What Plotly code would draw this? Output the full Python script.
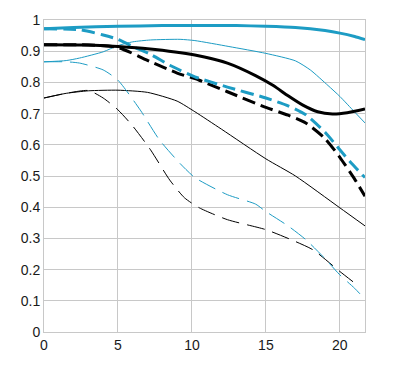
import plotly.graph_objects as go

BLUE = "#1d9cc4"
BLACK = "#000000"

# Thick blue solid
x_bs = [0, 2, 5, 8, 10, 13, 15, 17, 19, 20, 21, 21.7]
y_bs = [0.972, 0.976, 0.980, 0.982, 0.982, 0.982, 0.980, 0.976, 0.966, 0.958, 0.947, 0.937]

# Thick blue dashed
x_bd = [0, 2.5, 4, 5, 6, 7.2, 8.5, 10.2, 12.4, 15, 16.5, 17.7, 19, 20, 20.8, 21.7]
y_bd = [0.972, 0.968, 0.952, 0.938, 0.915, 0.890, 0.855, 0.818, 0.785, 0.750, 0.725, 0.696, 0.640, 0.584, 0.540, 0.495]

# Thick black solid
x_ks = [0, 3, 5, 7, 10.2, 12.4, 14.3, 15.5, 16.5, 17.5, 18.5, 19.5, 20.5, 21.7]
y_ks = [0.921, 0.920, 0.915, 0.908, 0.888, 0.862, 0.822, 0.790, 0.757, 0.727, 0.706, 0.699, 0.703, 0.715]

# Thick black dashed
x_kd = [0, 3, 5, 7.2, 9, 10.5, 12.4, 15, 16.5, 17.7, 19, 20, 21, 21.7]
y_kd = [0.921, 0.920, 0.912, 0.866, 0.830, 0.807, 0.770, 0.720, 0.695, 0.670, 0.620, 0.560, 0.490, 0.435]

# Thin blue solid
x_ts = [0, 1.5, 2.4, 4, 5, 6, 7.2, 9.2, 10.2, 12.5, 15, 17, 18, 19.2, 20, 21, 21.7]
y_ts = [0.866, 0.870, 0.878, 0.898, 0.918, 0.930, 0.936, 0.938, 0.934, 0.915, 0.893, 0.869, 0.840, 0.790, 0.755, 0.705, 0.670]

# Thin blue dashed
x_td = [0, 1.5, 2.4, 4, 5, 6.5, 7.8, 9.2, 10.2, 12.4, 14.3, 15, 16.5, 17.7, 19, 20, 21, 21.7]
y_td = [0.866, 0.866, 0.862, 0.840, 0.807, 0.712, 0.616, 0.540, 0.495, 0.440, 0.410, 0.386, 0.340, 0.296, 0.235, 0.183, 0.140, 0.105]

# Thin black solid
x_tks = [0, 1.5, 3, 5, 7, 9, 10.2, 12, 15, 17, 20, 21.7]
y_tks = [0.750, 0.765, 0.773, 0.775, 0.768, 0.740, 0.706, 0.650, 0.555, 0.500, 0.398, 0.340]

# Thin black dashed
x_tkd = [0, 1.5, 3, 4, 5, 6, 7.2, 8.5, 9.5, 10.5, 12.4, 15, 17, 18.2, 20, 21.3]
y_tkd = [0.750, 0.765, 0.774, 0.750, 0.712, 0.660, 0.584, 0.487, 0.430, 0.398, 0.360, 0.328, 0.290, 0.263, 0.194, 0.146]

fig = go.Figure()

def add(x, y, color, width, dash):
    fig.add_trace(go.Scatter(x=x, y=y, mode="lines", line=dict(color=color, width=width, dash=dash, shape="spline", smoothing=0.6), showlegend=False, hoverinfo="skip"))

add(x_tkd, y_tkd, BLACK, 1, "18px,8px")
add(x_tks, y_tks, BLACK, 1, "solid")
add(x_td, y_td, BLUE, 1, "18px,8px")
add(x_ts, y_ts, BLUE, 1, "solid")
add(x_kd, y_kd, BLACK, 3, "13px,6px")
add(x_bd, y_bd, BLUE, 3, "13px,6px")
add(x_ks, y_ks, BLACK, 3, "solid")
add(x_bs, y_bs, BLUE, 3, "solid")

fig.update_layout(
    width=395, height=369,
    margin=dict(l=36, r=38, t=12, b=45),
    paper_bgcolor="white", plot_bgcolor="white",
    font=dict(family="Liberation Sans, Arial, sans-serif", size=14, color="#1a1a1a"),
    xaxis=dict(range=[0, 21.7], tickvals=[0, 5, 10, 15, 20], showgrid=True, gridcolor="#c8c8c8", gridwidth=1,
               showline=True, linecolor="#c8c8c8", linewidth=1, mirror=True, zeroline=False, ticks="",
               fixedrange=True, automargin=False),
    yaxis=dict(range=[0, 1], tickvals=[0, 0.1, 0.2, 0.3, 0.4, 0.5, 0.6, 0.7, 0.8, 0.9, 1],
               ticktext=["0", "0.1", "0.2", "0.3", "0.4", "0.5", "0.6", "0.7", "0.8", "0.9", "1"],
               showgrid=True, gridcolor="#c8c8c8", gridwidth=1,
               showline=True, linecolor="#c8c8c8", linewidth=1, mirror=True, zeroline=False, ticks="",
               fixedrange=True, automargin=False),
)

fig.write_html("out.html")
